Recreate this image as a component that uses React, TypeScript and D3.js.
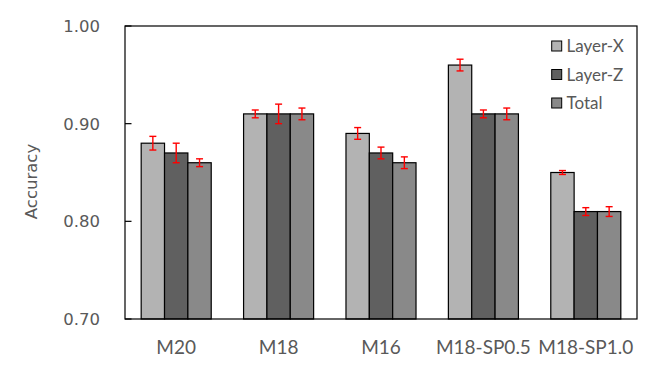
import React from "react";
import * as d3 from "d3";

const categories = ["M20", "M18", "M16", "M18-SP0.5", "M18-SP1.0"];
const seriesNames = ["Layer-X", "Layer-Z", "Total"];
const layerX = [0.88, 0.91, 0.89, 0.96, 0.85];
const layerZ = [0.87, 0.91, 0.87, 0.91, 0.81];
const total = [0.86, 0.91, 0.86, 0.91, 0.81];
const errX = [0.007, 0.004, 0.006, 0.006, 0.002];
const errZ = [0.01, 0.01, 0.006, 0.004, 0.004];
const errT = [0.004, 0.006, 0.006, 0.006, 0.005];
const yTicks = [0.7, 0.8, 0.9, 1.0];
const colors = ["#b3b3b3", "#606060", "#898989"];

const W = 666, H = 369;
const M = { left: 125, top: 26, right: 637, bottom: 319 };

export default function App() {
  const values = [layerX, layerZ, total];
  const errs = [errX, errZ, errT];
  const x0 = d3.scaleBand<string>().domain(categories).range([M.left, M.right]).padding(0);
  const bw = x0.bandwidth();
  const groupW = bw * 0.684;
  const x1 = d3.scaleBand<string>().domain(seriesNames).range([0, groupW]).padding(0);
  const y = d3.scaleLinear().domain([0.7, 1.0]).range([M.bottom, M.top]);
  const textCol = "#595959";

  return (
    <svg width={W} height={H} style={{ position: "absolute", left: 0, top: 0 }}>
      <rect x={0} y={0} width={W} height={H} fill="#fff" />
      {/* bars */}
      {categories.map((c, i) => {
        const gx = (x0(c) as number) + (bw - groupW) / 2;
        return (
          <g key={c}>
            {seriesNames.map((s, j) => {
              const v = values[j][i];
              const bx = gx + (x1(s) as number);
              return (
                <rect key={s} x={bx} y={y(v)} width={x1.bandwidth()} height={y(0.7) - y(v)}
                  fill={colors[j]} stroke="#000" strokeWidth={1.2} />
              );
            })}
          </g>
        );
      })}
      {/* error bars */}
      {categories.map((c, i) => {
        const gx = (x0(c) as number) + (bw - groupW) / 2;
        return (
          <g key={c + "e"}>
            {seriesNames.map((s, j) => {
              const v = values[j][i];
              const e = errs[j][i];
              const cx = gx + (x1(s) as number) + x1.bandwidth() / 2;
              return (
                <g key={s} stroke="#ff0000" strokeWidth={1.4}>
                  <line x1={cx} x2={cx} y1={y(v + e)} y2={y(v - e)} />
                  <line x1={cx - 3.5} x2={cx + 3.5} y1={y(v + e)} y2={y(v + e)} />
                  <line x1={cx - 3.5} x2={cx + 3.5} y1={y(v - e)} y2={y(v - e)} />
                </g>
              );
            })}
          </g>
        );
      })}
      {/* frame */}
      <rect x={M.left} y={M.top} width={M.right - M.left} height={M.bottom - M.top}
        fill="none" stroke="#000" strokeWidth={1.2} />
      {/* y ticks */}
      {yTicks.map((t) => (
        <g key={t}>
          <line x1={M.left} x2={M.left + 6.5} y1={y(t)} y2={y(t)} stroke="#000" strokeWidth={1.2} />
          <text x={100} y={y(t)} dy="0.36em" textAnchor="end" fill={textCol}
            style={{ fontFamily: "DejaVu Sans", fontSize: 16.5 }}>{t.toFixed(2)}</text>
        </g>
      ))}
      {/* x labels */}
      {categories.map((c) => (
        <text key={c} x={(x0(c) as number) + bw / 2} y={354} textAnchor="middle" fill={textCol}
          style={{ fontFamily: "Lato", fontSize: 19 }}>{c}</text>
      ))}
      {/* y axis title */}
      <text transform={`translate(37,181.5) rotate(-90)`} textAnchor="middle" fill={textCol}
        style={{ fontFamily: "DejaVu Sans", fontSize: 16.5 }}>Accuracy</text>
      {/* legend */}
      {seriesNames.map((s, j) => {
        const cy = 46 + j * 28.5;
        return (
          <g key={s}>
            <rect x={551.7} y={cy - 5} width={10} height={10} fill={colors[j]} stroke="#000" strokeWidth={1} />
            <text x={566.5} y={cy} dy="0.36em" fill={textCol} style={{ fontFamily: "Lato", fontSize: 17 }}>{s}</text>
          </g>
        );
      })}
    </svg>
  );
}
